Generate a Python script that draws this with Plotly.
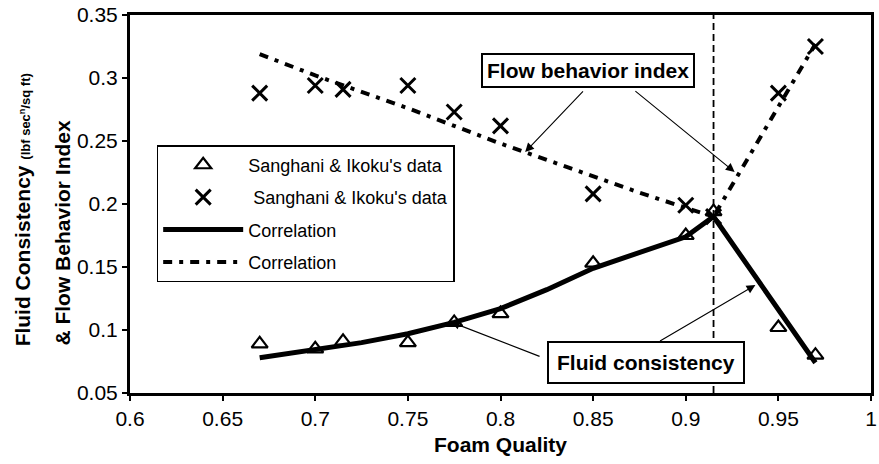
import plotly.graph_objects as go

# Foam quality of the measured samples
foam_quality = [0.67, 0.70, 0.715, 0.75, 0.775, 0.80, 0.85, 0.90, 0.915, 0.95, 0.97]
# Fluid consistency K (lbf sec^n / sq ft), measured
consistency_data = [0.089, 0.085, 0.091, 0.090, 0.106, 0.113, 0.153, 0.175, 0.194, 0.102, 0.080]
# Flow behavior index n, measured
behavior_data = [0.288, 0.294, 0.291, 0.294, 0.273, 0.262, 0.208, 0.199, 0.190, 0.288, 0.325]

# Correlation curves
corr_quality = [0.67, 0.70, 0.725, 0.75, 0.775, 0.80, 0.825, 0.85, 0.875, 0.90, 0.915, 0.97]
consistency_corr = [0.078, 0.084, 0.090, 0.097, 0.106, 0.117, 0.132, 0.149, 0.162, 0.174, 0.190, 0.074]
behavior_corr = [0.319, 0.302, 0.289, 0.276, 0.262, 0.248, 0.235, 0.222, 0.209, 0.197, 0.190, 0.327]

transition_quality = 0.915
legend_label_data = "Sanghani & Ikoku's data"
legend_label_corr = "Correlation"

FONT = "Liberation Sans, Arial, sans-serif"

fig = go.Figure()

fig.add_trace(go.Scatter(
    x=foam_quality, y=consistency_data, mode="markers", name=legend_label_data,
    legendgroup="a",
    marker=dict(symbol="triangle-up-open", size=14, color="black", line=dict(width=2.2, color="black")),
))
fig.add_trace(go.Scatter(
    x=foam_quality, y=behavior_data, mode="markers", name="&nbsp;" + legend_label_data,
    legendgroup="b",
    marker=dict(symbol="x-thin-open", size=15, color="black", line=dict(width=3, color="black")),
))
fig.add_trace(go.Scatter(
    x=corr_quality, y=consistency_corr, mode="lines", name=legend_label_corr,
    legendgroup="c",
    line=dict(color="black", width=5),
))
fig.add_trace(go.Scatter(
    x=corr_quality, y=behavior_corr, mode="lines", name=legend_label_corr,
    legendgroup="d",
    line=dict(color="black", width=4, dash="9px,7px,4px,7px"),
))

# Vertical divider at the transition quality
fig.add_shape(type="line", xref="x", yref="paper", x0=transition_quality, x1=transition_quality,
              y0=0, y1=1, line=dict(color="black", width=1.8, dash="7px,4px"))

annotations = []
# Labelled boxes
annotations.append(dict(
    x=0.8475, y=0.3056, xref="x", yref="y", text="<b>Flow behavior index</b>", showarrow=False,
    font=dict(family=FONT, size=21, color="black"), bgcolor="white",
    bordercolor="black", borderwidth=2, borderpad=4,
))
annotations.append(dict(
    x=0.8785, y=0.0746, xref="x", yref="y", text="<b>Fluid consistency</b>", showarrow=False,
    font=dict(family=FONT, size=21, color="black"), bgcolor="white",
    bordercolor="black", borderwidth=2, borderpad=8,
))
# Leader arrows
arrows = [
    ((0.8453, 0.2905), (0.8133, 0.2413)),
    ((0.8720, 0.2905), (0.9264, 0.2254)),
    ((0.8219, 0.0786), (0.7733, 0.1063)),
    ((0.8853, 0.0905), (0.9376, 0.1357)),
]
for (sx, sy), (ex, ey) in arrows:
    annotations.append(dict(
        x=ex, y=ey, ax=sx, ay=sy, xref="x", yref="y", axref="x", ayref="y",
        text="", showarrow=True, arrowhead=2, arrowsize=1.6, arrowwidth=1.1,
        arrowcolor="black", standoff=0, startstandoff=0,
    ))

# Y axis title, two lines aligned at the bottom
annotations.append(dict(
    x=-0.1446, y=0.119, xref="paper", yref="paper", xanchor="center", yanchor="bottom",
    textangle=-90, showarrow=False,
    text="<b>Fluid Consistency <span style='font-size:13px'>(lbf sec<sup>n</sup>/sq ft)</span></b>",
    font=dict(family=FONT, size=21, color="black"),
))
annotations.append(dict(
    x=-0.0924, y=0.119, xref="paper", yref="paper", xanchor="center", yanchor="bottom",
    textangle=-90, showarrow=False,
    text="<b>&amp; Flow Behavior Index</b>",
    font=dict(family=FONT, size=21, color="black"),
))

fig.update_layout(
    width=879, height=464,
    margin=dict(l=130, r=2, t=15, b=71),
    paper_bgcolor="white", plot_bgcolor="white",
    font=dict(family=FONT, color="black"),
    showlegend=True,
    legend=dict(
        x=0.036, y=0.656, xanchor="left", yanchor="top",
        bgcolor="white", bordercolor="black", borderwidth=1.5,
        font=dict(family=FONT, size=18, color="black"),
        itemwidth=80, tracegroupgap=6,
    ),
    annotations=annotations,
    xaxis=dict(
        range=[0.6, 1.0], tickmode="linear", tick0=0.6, dtick=0.05,
        showgrid=False, zeroline=False,
        showline=True, linecolor="black", linewidth=3, mirror=True,
        ticks="outside", ticklen=5, tickwidth=1.5, tickcolor="black",
        ticklabeloverflow="allow",
        tickfont=dict(family=FONT, size=21, color="black"),
        title=dict(text="<b>Foam Quality</b>", font=dict(family=FONT, size=21, color="black"), standoff=9),
    ),
    yaxis=dict(
        range=[0.05, 0.35], tickmode="linear", tick0=0.05, dtick=0.05,
        showgrid=False, zeroline=False,
        showline=True, linecolor="black", linewidth=3, mirror=True,
        ticks="outside", ticklen=5, tickwidth=1.5, tickcolor="black",
        tickfont=dict(family=FONT, size=21, color="black"),
    ),
)

fig.write_html("out.html")
